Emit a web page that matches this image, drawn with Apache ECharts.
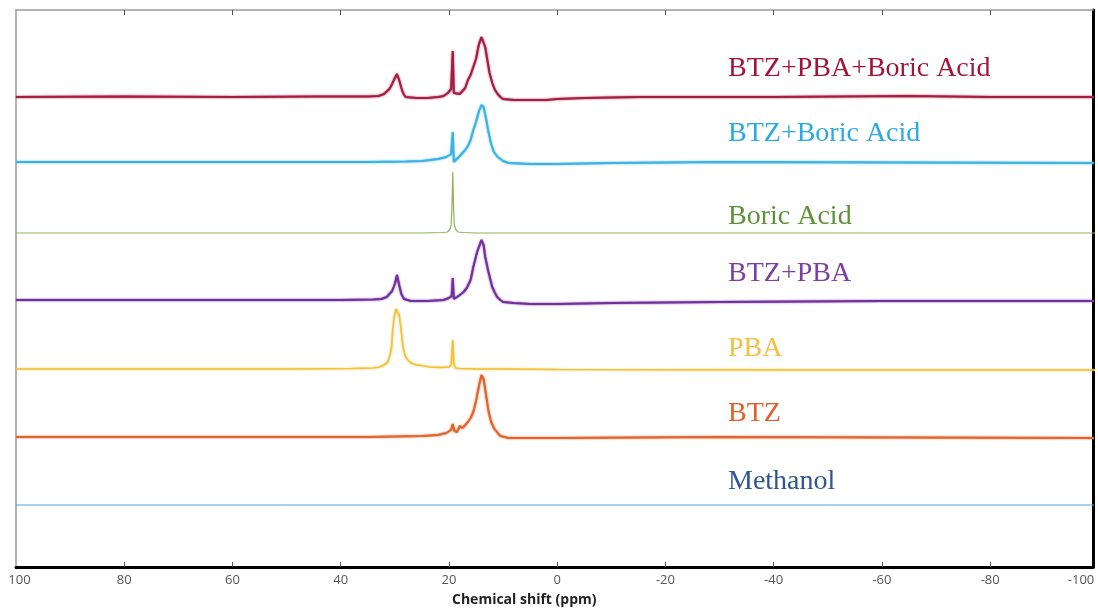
<!DOCTYPE html>
<html>
<head>
<meta charset="utf-8">
<script src="https://cdn.jsdelivr.net/npm/echarts@6/dist/echarts.min.js"></script>
<style>
html,body{margin:0;padding:0;background:#fff;}
#chart{width:1098px;height:612px;}
</style>
</head>
<body>
<div id="chart"></div>
<script>
// ---- Data (ppm, intensity above each trace's baseline) ----
const seriesNames = ['BTZ+PBA+Boric Acid','BTZ+Boric Acid','Boric Acid','BTZ+PBA','PBA','BTZ','Methanol'];
// vertical stacking offsets (a.u.)
const offsets = [470, 405, 334, 267, 198, 130, 62];

const btzPbaBoric = [[100,0],[80,0.5],[60,0],[45,0.5],[35,0.5],[33,1],[32,3],[31,8],[30.5,13],[30,19],[29.6,23],[29.2,17],[28.8,9],[28.4,3],[28,0],[26,-1],[24,-1],[22,0],[21,1],[20.2,4],[19.6,8],[19.3,46],[19.1,4],[18.8,2],[18,3],[17.5,6],[17,9],[16.5,17],[16,22],[15.5,30],[15,38],[14.5,52],[14,60],[13.7,60],[13.3,50],[13,40],[12.5,24],[12,14],[11.5,7],[11,3],[10.5,0],[10,-2],[8,-3],[5,-3],[2,-3],[0,-2],[-5,-1],[-15,0],[-40,0],[-65,1],[-80,0],[-100,0]];
const btzBoric = [[100,0],[60,0],[35,0],[28,0.5],[25,1],[22,3],[20.5,5],[19.6,8],[19.3,30],[19.1,0],[18.8,-1],[18,6],[17,12],[16.5,16],[16,22],[15.5,32],[15,40],[14.5,50],[14,57],[13.6,55],[13.2,45],[12.7,30],[12.2,18],[11.7,10],[11,5],[10,1],[9,-1],[5,-2],[0,-2],[-10,-1],[-30,0],[-100,-1]];
const boricAcid = [[100,0],[25,0],[21,0.5],[20.3,1],[19.9,3],[19.6,8],[19.45,25],[19.3,61],[19.15,25],[19,8],[18.7,3],[18.3,1],[17.5,0.5],[15,0],[-100,0]];
const btzPba = [[100,0],[60,0],[40,0],[34,0.5],[32.5,1],[31.5,3],[30.5,9],[30,16],[29.6,25],[29.2,15],[28.8,6],[28.3,1],[27,-1],[24,-1],[21,0],[20,2],[19.5,4],[19.3,22],[19.1,1],[18.5,3],[18,5],[17.3,8],[16.7,12],[16,20],[15.5,33],[14.8,48],[14,60],[13.6,55],[13.3,43],[12.7,28],[12,13],[11.5,7],[11.1,3],[10.5,0],[10,-2],[8,-3],[5,-4],[0,-4],[-10,-3],[-30,-2],[-60,-1],[-100,-1]];
const pba = [[100,0],[50,0],[38,0.5],[34,1],[32.8,2],[32,4],[31.3,7],[30.9,14],[30.6,22],[30.4,39],[30.1,52],[29.8,60],[29.5,61],[29.2,54],[28.9,42],[28.5,22],[28.1,13],[27.6,9],[27,6],[26,4],[24.5,3],[23.5,2],[21.5,1.5],[20,2],[19.6,4],[19.3,29],[19.1,5],[18.8,1],[18,0.5],[15,0],[10,0],[0,-0.5],[-50,-1],[-100,-1]];
const btz = [[100,0],[60,0],[35,0],[25,1],[22,2],[20.5,4],[19.6,7],[19.3,13],[19,6],[18.5,5],[18,11],[17.5,9],[17,12],[16.5,15],[16,19],[15.5,25],[15,36],[14.5,50],[14,62],[13.6,58],[13.2,44],[12.7,26],[12.2,15],[11.7,9],[11,4],[10.5,1],[9,-1],[5,-1],[0,-1],[-30,0],[-100,-1]];
const methanol = [[100,0],[50,0],[0,0],[-50,0],[-100,0]];

const spectra = [btzPbaBoric, btzBoric, boricAcid, btzPba, pba, btz, methanol];

// axis ticks
const tickValues = [80,60,40,20,0,-20,-40,-60,-80];
const labelValues = [100,80,60,40,20,0,-20,-40,-60,-80,-99];
const tickLabels = ['100','80','60','40','20','0','-20','-40','-60','-80','-100'];
const xName = 'Chemical shift (ppm)';

// ---- Styles ----
const lineColors = ['#a41d43','#3cb2e4','#8cb35c','#72319a','#f2c23c','#e2642c','#47acd9'];
const labelColors = ['#a3143a','#2ba9e1','#5f913a','#7b3fa2','#f3c042','#e0602a','#2f5597'];
const lineWidths = [2,2,1.2,2,1.6,2,1];
const labelCenters = [69, 134, 217, 274, 349, 414, 482];

const chart = echarts.init(document.getElementById('chart'), null, {renderer:'canvas'});

const series = spectra.map((arr, i) => ({
  type: 'line',
  name: seriesNames[i],
  data: arr.map(p => [p[0], p[1] + offsets[i]]),
  showSymbol: false,
  smooth: false,
  clip: true,
  silent: true,
  lineStyle: {color: lineColors[i], width: lineWidths[i],
    shadowColor: lineColors[i], shadowBlur: lineWidths[i] > 1.5 ? 2 : 0},
  animation: false
}));

const axisCommon = {
  type: 'value', min: -99, max: 100, inverse: true,
  splitLine: {show:false}
};

chart.setOption({
  animation: false,
  backgroundColor: '#fff',
  grid: {left: 16, right: 5, top: 10, bottom: 45, containLabel: false},
  xAxis: [
    Object.assign({}, axisCommon, {
      position: 'bottom',
      axisLine: {show:true, onZero:false, lineStyle:{color:'#000', width:3}},
      axisTick: {show:true, inside:true, length:5, customValues: tickValues, lineStyle:{color:'#555', width:1}},
      axisLabel: {show:true, customValues: labelValues, margin: 7, color:'#555', fontSize: 13,
        fontFamily: 'Open Sans',
        formatter: function(v){ const k = labelValues.indexOf(v); const t = k >= 0 ? tickLabels[k] : String(v);
          if (k === 0) return '{l|' + t + '}';
          if (k === labelValues.length - 1) return '{r|' + t + '}';
          return t; },
        rich: {l:{padding:[0,0,0,7], color:'#555', fontSize:13, fontFamily:'Open Sans'},
               r:{padding:[0,24,0,0], color:'#555', fontSize:13, fontFamily:'Open Sans'}}
      }
    }),
    Object.assign({}, axisCommon, {
      position: 'top',
      axisLine: {show:true, onZero:false, lineStyle:{color:'#9a9a9a', width:1.5}},
      axisTick: {show:true, inside:true, length:5, customValues: tickValues, lineStyle:{color:'#555', width:1}},
      axisLabel: {show:false}
    })
  ],
  yAxis: [
    {type:'value', min:0, max:557, position:'left',
     axisLine:{show:true, onZero:false, lineStyle:{color:'#9a9a9a', width:1.5}},
     axisTick:{show:false}, axisLabel:{show:false}, splitLine:{show:false}},
    {type:'value', min:0, max:557, position:'right',
     axisLine:{show:true, onZero:false, lineStyle:{color:'#000', width:3}},
     axisTick:{show:false}, axisLabel:{show:false}, splitLine:{show:false}}
  ],
  series: series,
  graphic: [
    {type:'text', x: 452, y: 593, silent:true,
     style:{text: xName, fill:'#222', font:'bold 14px "Open Sans"', align:'left', verticalAlign:'top'}}
  ].concat(seriesNames.map((n, i) => ({
    type:'text', x: 728, y: labelCenters[i], silent:true,
    style:{text:n, fill: labelColors[i], font:'28px "Liberation Serif"', align:'left', verticalAlign:'middle'}
  })))
});
</script>
</body>
</html>
